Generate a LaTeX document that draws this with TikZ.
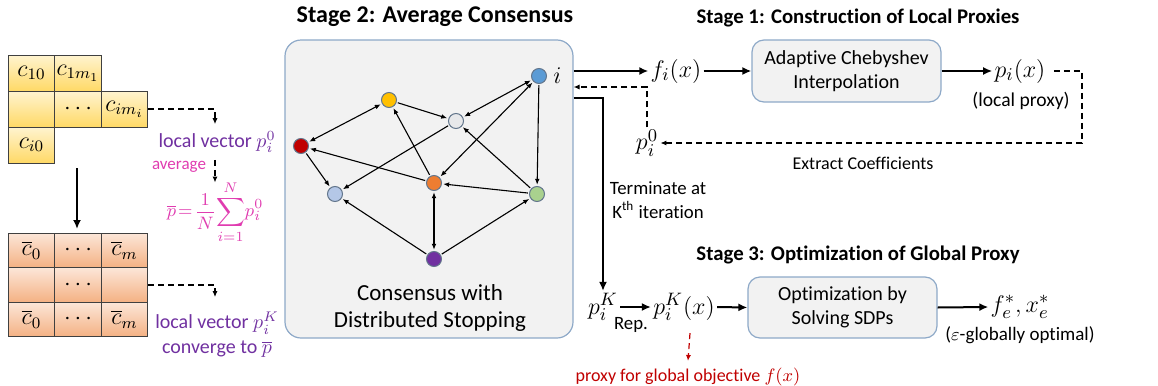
\documentclass[tikz,border=0pt]{standalone}
\usepackage{fontspec}
\setmainfont{Carlito}[Ligatures={NoCommon}]
\usetikzlibrary{calc,arrows.meta,positioning}
\definecolor{cellyt}{HTML}{FFF4D0}
\definecolor{cellyb}{HTML}{FFD966}
\definecolor{cellot}{HTML}{FCE6D8}
\definecolor{cellob}{HTML}{F4B183}
\definecolor{boxfill}{HTML}{F2F2F2}
\definecolor{boxline}{HTML}{8EA9C8}
\definecolor{txtpurple}{HTML}{7030A0}
\definecolor{txtpink}{HTML}{E03CB0}
\definecolor{txtred}{HTML}{C00000}
\tikzset{
	every node/.style={font=\fontsize{10}{12}\selectfont},
	cellY/.style={draw=black!75, line width=0.5pt, minimum width=23.25pt, minimum height=18pt, inner sep=0pt, top color=cellyt, bottom color=cellyb, font=\fontsize{12}{14}\selectfont},
	cellO/.style={draw=black!75, line width=0.5pt, minimum width=23.25pt, minimum height=17.25pt, inner sep=0pt, top color=cellot, bottom color=cellob, font=\fontsize{12}{14}\selectfont},
	agent/.style={circle, draw=boxline!70!black, line width=0.5pt, minimum size=7.5pt, inner sep=0pt},
	link/.style={line width=0.55pt, shorten >=0.6pt, shorten <=0.6pt, >={Latex[length=3pt,width=2.4pt]}},
	bigarrow/.style={line width=1pt, -{Latex[length=4.5pt,width=4pt]}},
	dasharrow/.style={line width=0.6pt, dash pattern=on 3pt off 2pt, -{Latex[length=3pt,width=2.6pt]}},
	stagebox/.style={draw=boxline, fill=boxfill, rounded corners=6pt, line width=0.6pt, align=center},
	stagetitle/.style={font=\bfseries\fontsize{10.4}{13}\selectfont},
	mathbig/.style={font=\fontsize{12.5}{15}\selectfont, inner sep=1pt},
}
\begin{document}
\begin{tikzpicture}[x=0.5pt,y=-0.5pt]
	\useasboundingbox (0,0) rectangle (1158,386);

	\node[cellY] (y11) at (31.5,73) {$c_{10}$};
	\node[cellY] (y12) at (78,73) {$c_{1m_1}$};
	\node[cellY] (y21) at (31.5,109) {};
	\node[cellY] (y22) at (78,109) {$\cdots$};
	\node[cellY] (y23) at (124.5,109) {$c_{im_i}$};
	\node[cellY] (y31) at (31.5,145) {$c_{i0}$};

	\node[cellO] (o11) at (31.5,250.5) {$\overline{c}_0$};
	\node[cellO] (o12) at (78,250.5) {$\cdots$};
	\node[cellO] (o13) at (124.5,250.5) {$\overline{c}_m$};
	\node[cellO] (o21) at (31.5,285) {};
	\node[cellO] (o22) at (78,285) {$\cdots$};
	\node[cellO] (o23) at (124.5,285) {};
	\node[cellO] (o31) at (31.5,319.5) {$\overline{c}_0$};
	\node[cellO] (o32) at (78,319.5) {$\cdots$};
	\node[cellO] (o33) at (124.5,319.5) {$\overline{c}_m$};

	\coordinate (avgtop) at (77,168);
	\coordinate (avgbot) at (77,229);
	\draw[bigarrow] (avgtop) -- (avgbot);

	\node[text=txtpurple] (lv0) at (217,142) {local vector $p_i^0$};
	\node[text=txtpink, inner sep=0pt, font=\fontsize{9.5}{11}\selectfont] (pbar) at (215,212) {$\displaystyle \overline{p}\!=\!\frac{1}{N}\!\sum_{i=1}^{N}\!p_i^0$};
	\node[text=txtpink, font=\fontsize{8.5}{10}\selectfont] (avg) at (179,167) {average};
	\node[text=txtpurple, align=center, font=\fontsize{10}{12.5}\selectfont] (lvK) at (217,335) {local vector $p_i^K$\\converge to $\overline{p}$};
	\draw[dasharrow] (y23.east) -| ($(lv0.north)+(-2,0)$);
	\draw[dasharrow] ($(lv0.south)+(-2,0)$) -- ($(pbar.north)+(0,2)$);
	\draw[dasharrow] (o23.east) -| ($(lvK.north)+(-2,-8)$);

	\node[stagetitle, font=\bfseries\fontsize{12}{15}\selectfont] (t2) at (435,17) {Stage 2: Average Consensus};
	\node[stagebox, minimum width=144pt, minimum height=149pt, rounded corners=8pt] (cons) at (429,189) {};
	\node[align=center, font=\fontsize{11.5}{13.5}\selectfont] (constext) at (430,308) {Consensus with\\Distributed Stopping};

	\node[agent, fill={rgb,255:red,91;green,155;blue,213}] (nI) at (539,76) {};
	\node[mathbig, right=2pt of nI] (ilab) {$i$};
	\node[agent, fill={rgb,255:red,255;green,192;blue,0}] (nYel) at (389,100) {};
	\node[agent, fill={rgb,255:red,231;green,232;blue,234}] (nGry) at (456,121) {};
	\node[agent, fill={rgb,255:red,192;green,0;blue,0}] (nRed) at (301,146) {};
	\node[agent, fill={rgb,255:red,237;green,125;blue,49}] (nOrg) at (434,183) {};
	\node[agent, fill={rgb,255:red,180;green,199;blue,231}] (nLbl) at (335,194) {};
	\node[agent, fill={rgb,255:red,169;green,209;blue,142}] (nGrn) at (537,194) {};
	\node[agent, fill={rgb,255:red,112;green,48;blue,160}] (nPur) at (434,259) {};
	\draw[link,<->] (nYel) -- (nRed);
	\draw[link,->] (nYel) -- (nGry);
	\draw[link,<->] (nI) -- (nGry);
	\draw[link,->] (nI) -- (nGrn);
	\draw[link,<->] (nI) -- (nOrg);
	\draw[link,->] (nGry) -- (nLbl);
	\draw[link,->] (nRed) -- (nLbl);
	\draw[link,->] (nOrg) -- (nRed);
	\draw[link,->] (nOrg) -- (nYel);
	\draw[link,->] (nGrn) -- (nOrg);
	\draw[link,->] (nGrn) -- (nGry);
	\draw[link,<->] (nPur) -- (nOrg);
	\draw[link,->] (nPur) -- (nLbl);
	\draw[link,->] (nPur) -- (nGrn);

	\node[stagetitle] (t1) at (858,18) {Stage 1: Construction of Local Proxies};
	\node[mathbig] (fi) at (676,71) {$f_i(x)$};
	\node[stagebox, minimum width=94.5pt, minimum height=31pt] (cheb) at (846.5,71) {Adaptive Chebyshev\\Interpolation};
	\node[mathbig] (pix) at (1020,71) {$p_i(x)$};
	\node[font=\fontsize{9.8}{12}\selectfont] (lp) at (1021,101) {(local proxy)};
	\node[mathbig] (p0) at (647,143) {$p_i^0$};
	\node[font=\fontsize{9}{11}\selectfont] (extr) at (863,163) {Extract Coefficients};
	\coordinate (dcorner) at (1082,71);
	\draw[bigarrow] (cons.east |- fi.west) -- (fi.west);
	\draw[bigarrow] (fi.east) -- (cheb.west);
	\draw[bigarrow] (cheb.east) -- (pix.west);
	\draw[dasharrow, shorten <=3pt] (pix.east) -- (dcorner) |- (p0.east);
	\draw[dasharrow] (p0.north) |- (cons.east |- 0,87);

	\node[mathbig] (pK) at (603,307) {$p_i^K$};
	\node[align=center, font=\fontsize{9.4}{12}\selectfont] (term) at (658,200) {Terminate at\\K\textsuperscript{th} iteration};
	\draw[bigarrow] (cons.east |- 0,98) -| (pK.north);
	\node[mathbig] (pKx) at (684,307) {$p_i^K(x)$};
	\draw[bigarrow] (pK.east) -- (pKx.west);
	\node[font=\fontsize{9.4}{11}\selectfont] (rep) at (631,325) {Rep.};
	\node[text=txtred, font=\fontsize{9}{11}\selectfont] (proxy) at (688,377) {proxy for global objective $f(x)$};
	\draw[dasharrow, draw=txtred] ($(pKx.south)+(6,10)$) -- (proxy.north);

	\node[stagetitle] (t3) at (858,255) {Stage 3: Optimization of Global Proxy};
	\node[stagebox, minimum width=94.5pt, minimum height=30.5pt] (opt) at (842.5,307.5) {Optimization by\\Solving SDPs};
	\node[mathbig] (fe) at (1020,307) {$f_e^*,x_e^*$};
	\node[font=\fontsize{9.5}{11}\selectfont] (eps) at (1020,335) {($\varepsilon$-globally optimal)};
	\draw[bigarrow] (pKx.east) -- (opt.west);
	\draw[bigarrow] (opt.east) -- (fe.west);
\end{tikzpicture}
\end{document}
